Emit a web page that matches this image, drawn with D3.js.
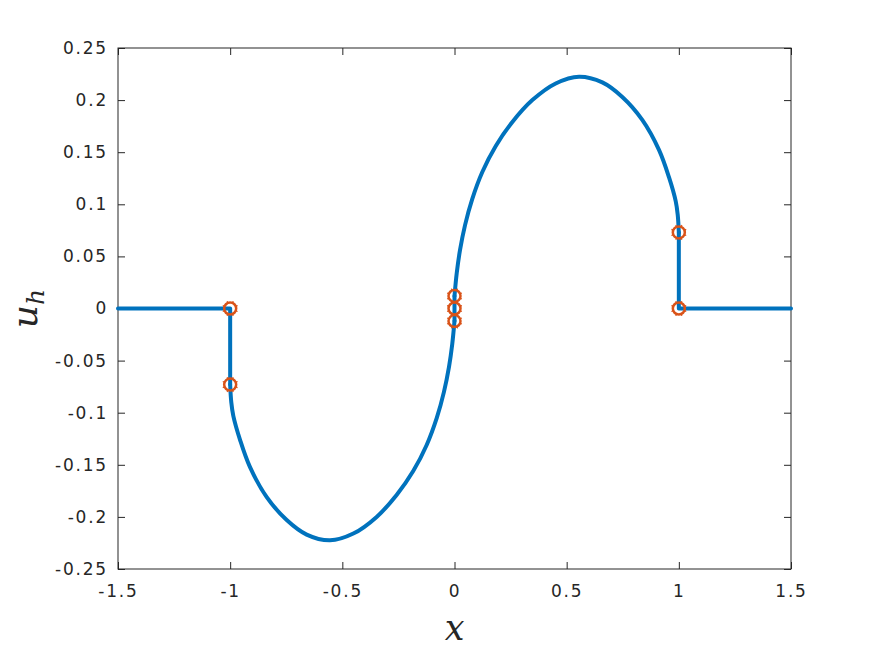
<!DOCTYPE html>
<html>
<head>
<meta charset="utf-8">
<script src="https://cdn.jsdelivr.net/npm/d3@7"></script>
<style>
  body { margin: 0; background: #fff; }
  text { font-family: "DejaVu Sans", sans-serif; fill: #262626; }
</style>
</head>
<body>
<script>
// values
var xTicks = [-1.5, -1, -0.5, 0, 0.5, 1, 1.5];
var yTicks = [-0.25, -0.2, -0.15, -0.1, -0.05, 0, 0.05, 0.1, 0.15, 0.2, 0.25];

// flat parts and the jumps at x = -1, 0 and 1
var leftFlat = [[-1.5, 0], [-1, 0], [-1, -0.073]];
var midJump = [[0, -0.012], [0, 0.012]];
var rightFlat = [[1, 0.073], [1, 0], [1.5, 0]];

// curved part on (-1, 0)
var leftX = [-1, -0.995, -0.986, -0.956, -0.912, -0.837, -0.748, -0.659,
    -0.555, -0.451, -0.347, -0.258, -0.184, -0.124, -0.079, -0.047, -0.0245,
    -0.01, 0];
var leftY = [-0.073, -0.090, -0.103, -0.126, -0.152, -0.181, -0.203, -0.217,
    -0.2225, -0.216, -0.200, -0.179, -0.156, -0.131, -0.105, -0.080, -0.056,
    -0.034, -0.012];

// curved part on (0, 1)
var rightX = [0, 0.01, 0.0245, 0.047, 0.079, 0.124, 0.184, 0.258, 0.347,
    0.451, 0.555, 0.659, 0.748, 0.837, 0.912, 0.956, 0.986, 0.995, 1];
var rightY = [0.012, 0.034, 0.056, 0.080, 0.105, 0.131, 0.156, 0.179, 0.200,
    0.216, 0.2225, 0.217, 0.203, 0.181, 0.152, 0.126, 0.103, 0.090, 0.073];

var markX = [-1, -1, 0, 0, 0, 1, 1];
var markY = [0, -0.073, 0.012, 0, -0.012, 0.073, 0];

var W = 875, H = 656;
var margin = {left: 118, right: 84, top: 48, bottom: 87};
var width = W - margin.left - margin.right,
    height = H - margin.top - margin.bottom;

var svg = d3.select("body").append("svg")
    .attr("width", W)
    .attr("height", H);

var g = svg.append("g")
    .attr("transform", "translate(" + margin.left + "," + margin.top + ")");

var x = d3.scaleLinear().domain([-1.5, 1.5]).range([0, width]);
var y = d3.scaleLinear().domain([-0.25, 0.25]).range([height, 0]);

var fmt = function(d) { return String(d); };

// axes with inward ticks on all four sides
function styleAxis(sel) {
    sel.select(".domain").remove();
    sel.selectAll("line").attr("stroke", "#262626");
    sel.selectAll("text")
        .attr("font-size", "17px")
        .attr("fill", "#262626")
        .style("letter-spacing", "1.8px")
        .style("font-family", "DejaVu Sans, sans-serif");
}

g.append("g")
    .attr("transform", "translate(0," + height + ")")
    .call(d3.axisBottom(x).tickValues(xTicks).tickFormat(fmt)
        .tickSizeInner(-7).tickSizeOuter(0).tickPadding(16))
    .call(styleAxis);
g.append("g")
    .call(d3.axisTop(x).tickValues(xTicks).tickFormat("")
        .tickSizeInner(-7).tickSizeOuter(0))
    .call(styleAxis);
g.append("g")
    .call(d3.axisLeft(y).tickValues(yTicks).tickFormat(fmt)
        .tickSizeInner(-7).tickSizeOuter(0).tickPadding(10))
    .call(styleAxis);
g.append("g")
    .attr("transform", "translate(" + width + ",0)")
    .call(d3.axisRight(y).tickValues(yTicks).tickFormat("")
        .tickSizeInner(-7).tickSizeOuter(0))
    .call(styleAxis);

g.append("rect")
    .attr("width", width)
    .attr("height", height)
    .attr("fill", "none")
    .attr("stroke", "#262626")
    .attr("stroke-width", 1);

var plot = g.append("g");

var line = d3.line()
    .x(function(d) { return x(d[0]); })
    .y(function(d) { return y(d[1]); });
var smooth = d3.line()
    .x(function(d) { return x(d[0]); })
    .y(function(d) { return y(d[1]); })
    .curve(d3.curveCatmullRom.alpha(0.5));

function pairs(xs, ys) {
    return xs.map(function(v, i) { return [v, ys[i]]; });
}

[line(leftFlat), line(midJump), line(rightFlat),
 smooth(pairs(leftX, leftY)), smooth(pairs(rightX, rightY))]
    .forEach(function(d) {
        plot.append("path")
            .attr("d", d)
            .attr("fill", "none")
            .attr("stroke", "#0072BD")
            .attr("stroke-width", 4)
            .attr("stroke-linejoin", "round")
            .attr("stroke-linecap", "round");
    });

// circle + asterisk markers
var marks = plot.selectAll(".mark")
    .data(pairs(markX, markY))
    .enter().append("g")
    .attr("class", "mark")
    .attr("transform", function(d) {
        return "translate(" + x(d[0]) + "," + y(d[1]) + ")";
    });

marks.append("circle")
    .attr("r", 6)
    .attr("fill", "none")
    .attr("stroke", "#D95319")
    .attr("stroke-width", 2.5);

[0, 45, 90, 135].forEach(function(a) {
    marks.append("line")
        .attr("x1", -8).attr("x2", 8)
        .attr("transform", "rotate(" + (a + 22.5) + ")")
        .attr("stroke", "#D95319")
        .attr("stroke-width", 1.2)
        .attr("stroke-dasharray", "2,12,2");
});

// axis labels
svg.append("text")
    .attr("x", margin.left + width / 2)
    .attr("y", 640)
    .attr("text-anchor", "middle")
    .attr("font-size", "35px")
    .style("font-family", "DejaVu Serif, serif")
    .style("font-style", "italic")
    .text("x");

var yl = svg.append("text")
    .attr("transform", "translate(37," + (margin.top + height / 2) + ") rotate(-90)")
    .attr("text-anchor", "middle")
    .attr("font-size", "36px")
    .style("font-family", "DejaVu Serif, serif")
    .style("font-style", "italic");
yl.append("tspan").text("u");
yl.append("tspan").attr("font-size", "25px").attr("dy", 7).text("h");
</script>
</body>
</html>
